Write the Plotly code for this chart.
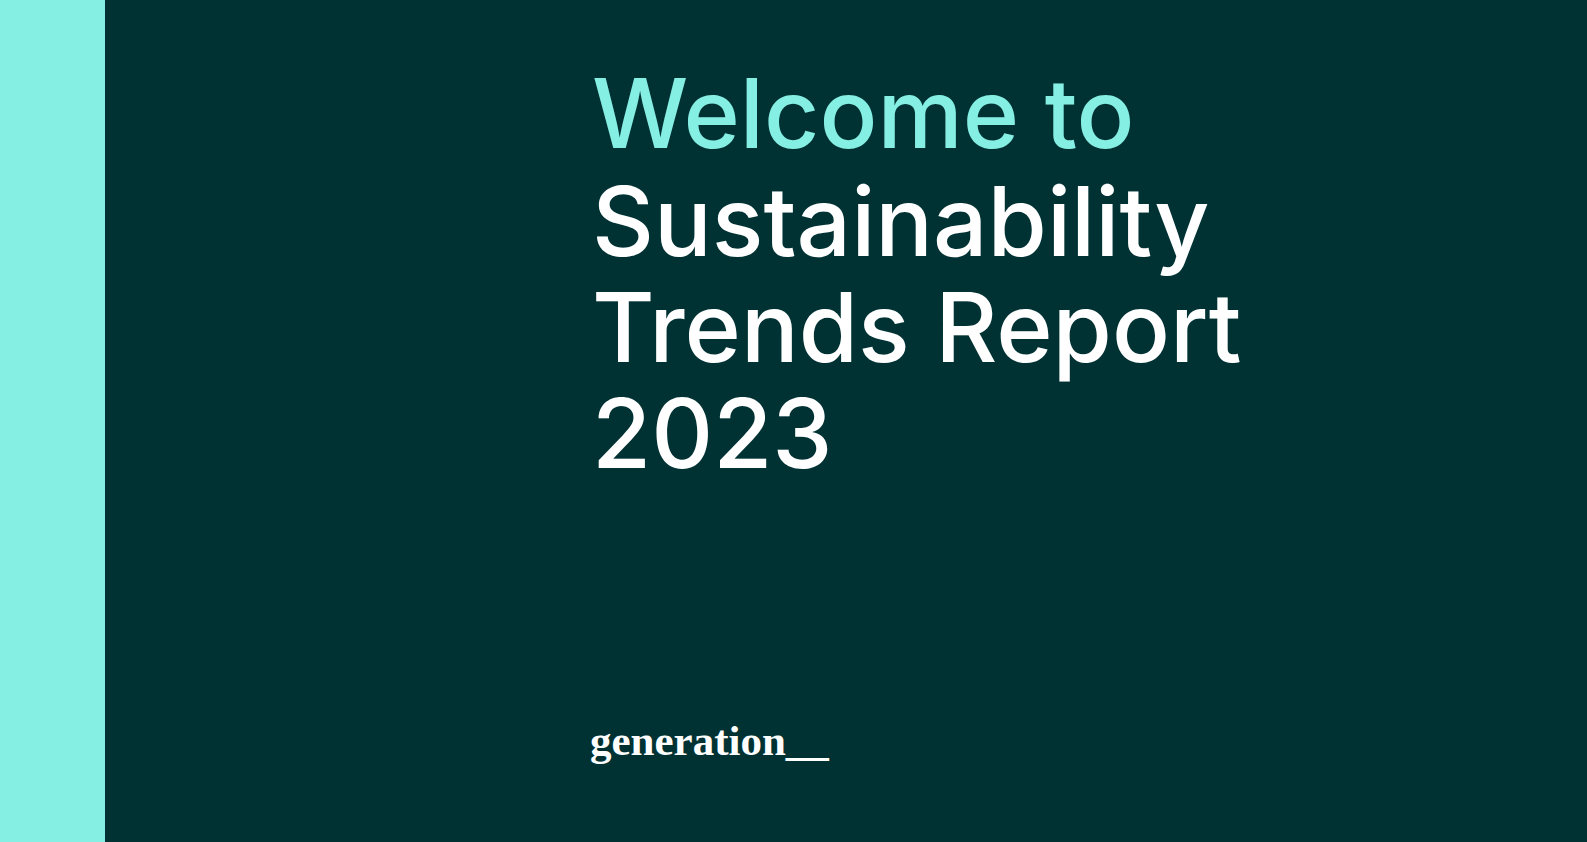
import plotly.graph_objects as go

title_lines = ["Welcome to", "Sustainability", "Trends Report", "2023"]
line_colors = ["#86EFE4", "#FFFFFF", "#FFFFFF", "#FFFFFF"]
logo_text = "generation__"

W, H = 1587, 842
bg = "#003234"
accent = "#86EFE4"

fig = go.Figure()

# left accent strip
fig.add_shape(type="rect", xref="paper", yref="paper", x0=0, x1=105 / W, y0=0, y1=1,
              fillcolor=accent, line_width=0, layer="below")

y_centers = [113, 221, 327, 433]
for txt, col, yc in zip(title_lines, line_colors, y_centers):
    fig.add_annotation(text=txt, xref="paper", yref="paper", x=590 / W, y=1 - yc / H,
                       xanchor="left", yanchor="middle", showarrow=False,
                       font=dict(family="Inter", size=96, color=col, weight=500))

fig.add_annotation(text=logo_text, xref="paper", yref="paper", x=588 / W, y=1 - 740 / H,
                   xanchor="left", yanchor="middle", showarrow=False,
                   font=dict(family="Liberation Serif", size=43, color="#FFFFFF", weight=600))

fig.update_layout(width=W, height=H, margin=dict(l=0, r=0, t=0, b=0),
                  paper_bgcolor=bg, plot_bgcolor=bg,
                  xaxis=dict(visible=False), yaxis=dict(visible=False), showlegend=False)

fig.write_html("out.html", config={"displayModeBar": False},
               post_script="document.body.style.margin='0';")
